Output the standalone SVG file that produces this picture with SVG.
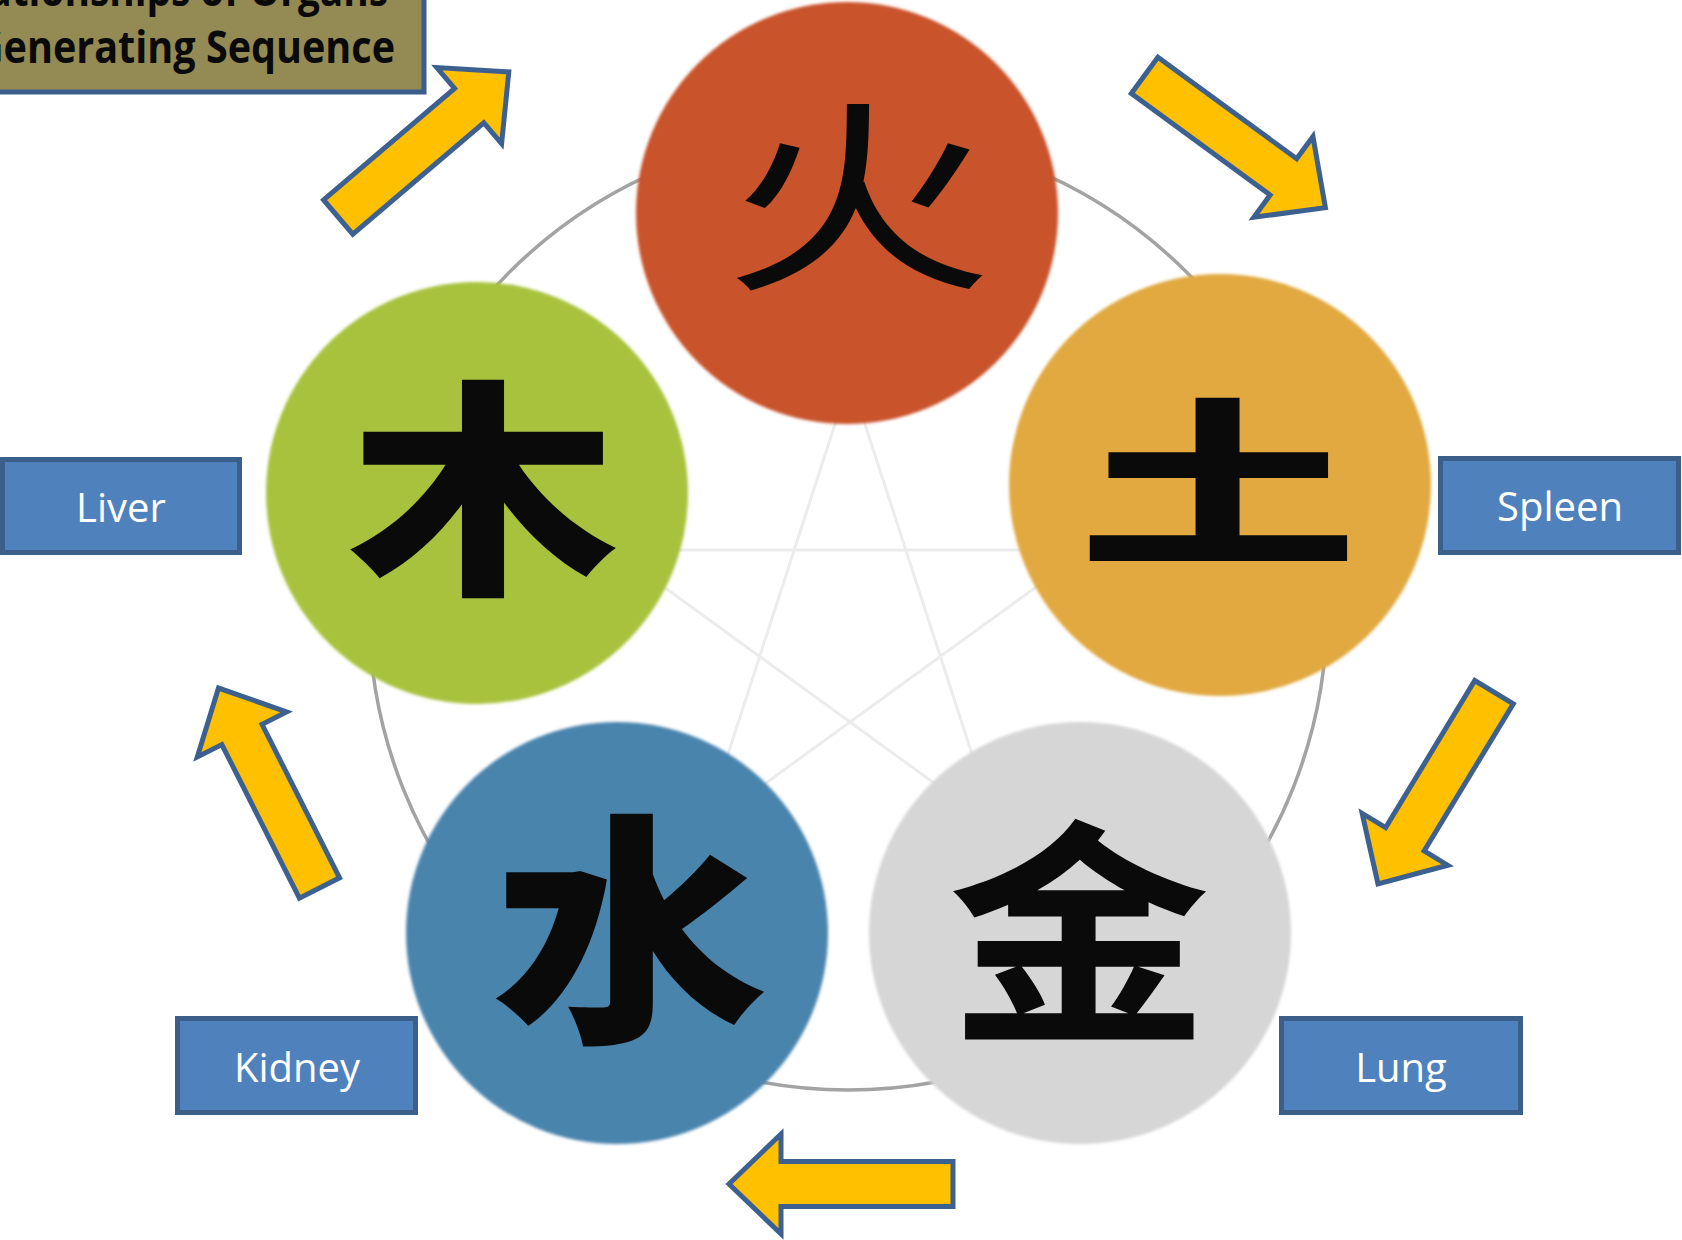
<svg xmlns="http://www.w3.org/2000/svg" width="1682" height="1240" viewBox="0 0 1682 1240">
  <style>
    .arrow { fill:#FFC000; stroke:#3C6090; stroke-width:5; stroke-linejoin:miter; }
    .box rect { fill:#4F81BD; stroke:#3A5F8B; stroke-width:5; }
    .box text { font-family:'Open Sans','Liberation Sans',sans-serif; font-size:40px; fill:#FFFFFF; text-anchor:middle; }
    .glyph { font-family:'Noto Sans CJK SC','Noto Sans CJK JP',sans-serif; font-size:250px; fill:#0A0A0A; text-anchor:middle; }
    .title { font-family:'Open Sans','Liberation Sans',sans-serif; font-weight:bold; font-size:44px; fill:#0A0A0A; }
  </style>
  <defs>
    <path id="arr" d="M -112,-22.5 H 60 V -50 L 112,0 L 60,50 V 22.5 H -112 Z"/>
    <filter id="soft" x="-5%" y="-5%" width="110%" height="110%">
      <feGaussianBlur stdDeviation="1.5"/>
    </filter>
  </defs>
  <rect width="1682" height="1240" fill="#FFFFFF"/>

  <g id="ring">
    <circle cx="848" cy="611" r="479" fill="none" stroke="#A3A3A3" stroke-width="3.5"/>
    <path d="M850,378 L704,828 L1087,550 L613,550 L996,828 Z" fill="none" stroke="#ECECEC" stroke-width="3"/>
  </g>

  <g id="fire">
    <circle cx="847" cy="213" r="211" fill="#C9532A" filter="url(#soft)"/>
    <text class="glyph" font-weight="400" transform="translate(858,196) scale(1.08,0.82)" x="0" y="95">火</text>
  </g>
  <g id="earth">
    <circle cx="1220" cy="485" r="211" fill="#E1A93F" filter="url(#soft)"/>
    <text class="glyph" font-weight="900" transform="translate(1218,483) scale(1.12,0.72)" x="0" y="95">土</text>
  </g>
  <g id="metal">
    <circle cx="1080" cy="933" r="211" fill="#D6D6D6" filter="url(#soft)"/>
    <text class="glyph" font-weight="700" transform="translate(1079,933) scale(1.05,0.95)" x="0" y="95">金</text>
  </g>
  <g id="water">
    <circle cx="617" cy="933" r="211" fill="#4884AD" filter="url(#soft)"/>
    <text class="glyph" font-weight="900" transform="translate(630,930) scale(1.1,0.98)" x="0" y="95">水</text>
  </g>
  <g id="wood">
    <circle cx="477" cy="493" r="211" fill="#A9C23E" filter="url(#soft)"/>
    <text class="glyph" font-weight="900" transform="translate(483,489) scale(1.08,0.92)" x="0" y="95">木</text>
  </g>

  <g id="title">
    <rect x="-10" y="-10" width="434" height="102" fill="#948A54" stroke="#3B5E8C" stroke-width="5"/>
    <text class="title" x="-72" y="6" textLength="460" lengthAdjust="spacingAndGlyphs">Relationships of Organs</text>
    <text class="title" x="-25" y="63" textLength="420" lengthAdjust="spacingAndGlyphs">Generating Sequence</text>
  </g>

  <g id="liver" class="box">
    <rect x="2.5" y="459.5" width="237" height="93"/>
    <text x="121" y="522">Liver</text>
  </g>
  <g id="spleen" class="box">
    <rect x="1440.5" y="458.5" width="238" height="94"/>
    <text x="1560" y="521">Spleen</text>
  </g>
  <g id="kidney" class="box">
    <rect x="177.5" y="1018.5" width="238" height="94"/>
    <text x="297" y="1082">Kidney</text>
  </g>
  <g id="lung" class="box">
    <rect x="1281.5" y="1018.5" width="239" height="94"/>
    <text x="1401" y="1082">Lung</text>
  </g>

  <g id="connectors">
    <use href="#arr" class="arrow" transform="translate(423.5,144.5) rotate(-40.4)"/>
    <use href="#arr" class="arrow" transform="translate(1235,141.5) rotate(36.2)"/>
    <use href="#arr" class="arrow" transform="translate(1436,788) rotate(121.2)"/>
    <use href="#arr" class="arrow" transform="translate(841,1184) rotate(180)"/>
    <use href="#arr" class="arrow" transform="translate(269,788) rotate(-116.8)"/>
  </g>
</svg>
